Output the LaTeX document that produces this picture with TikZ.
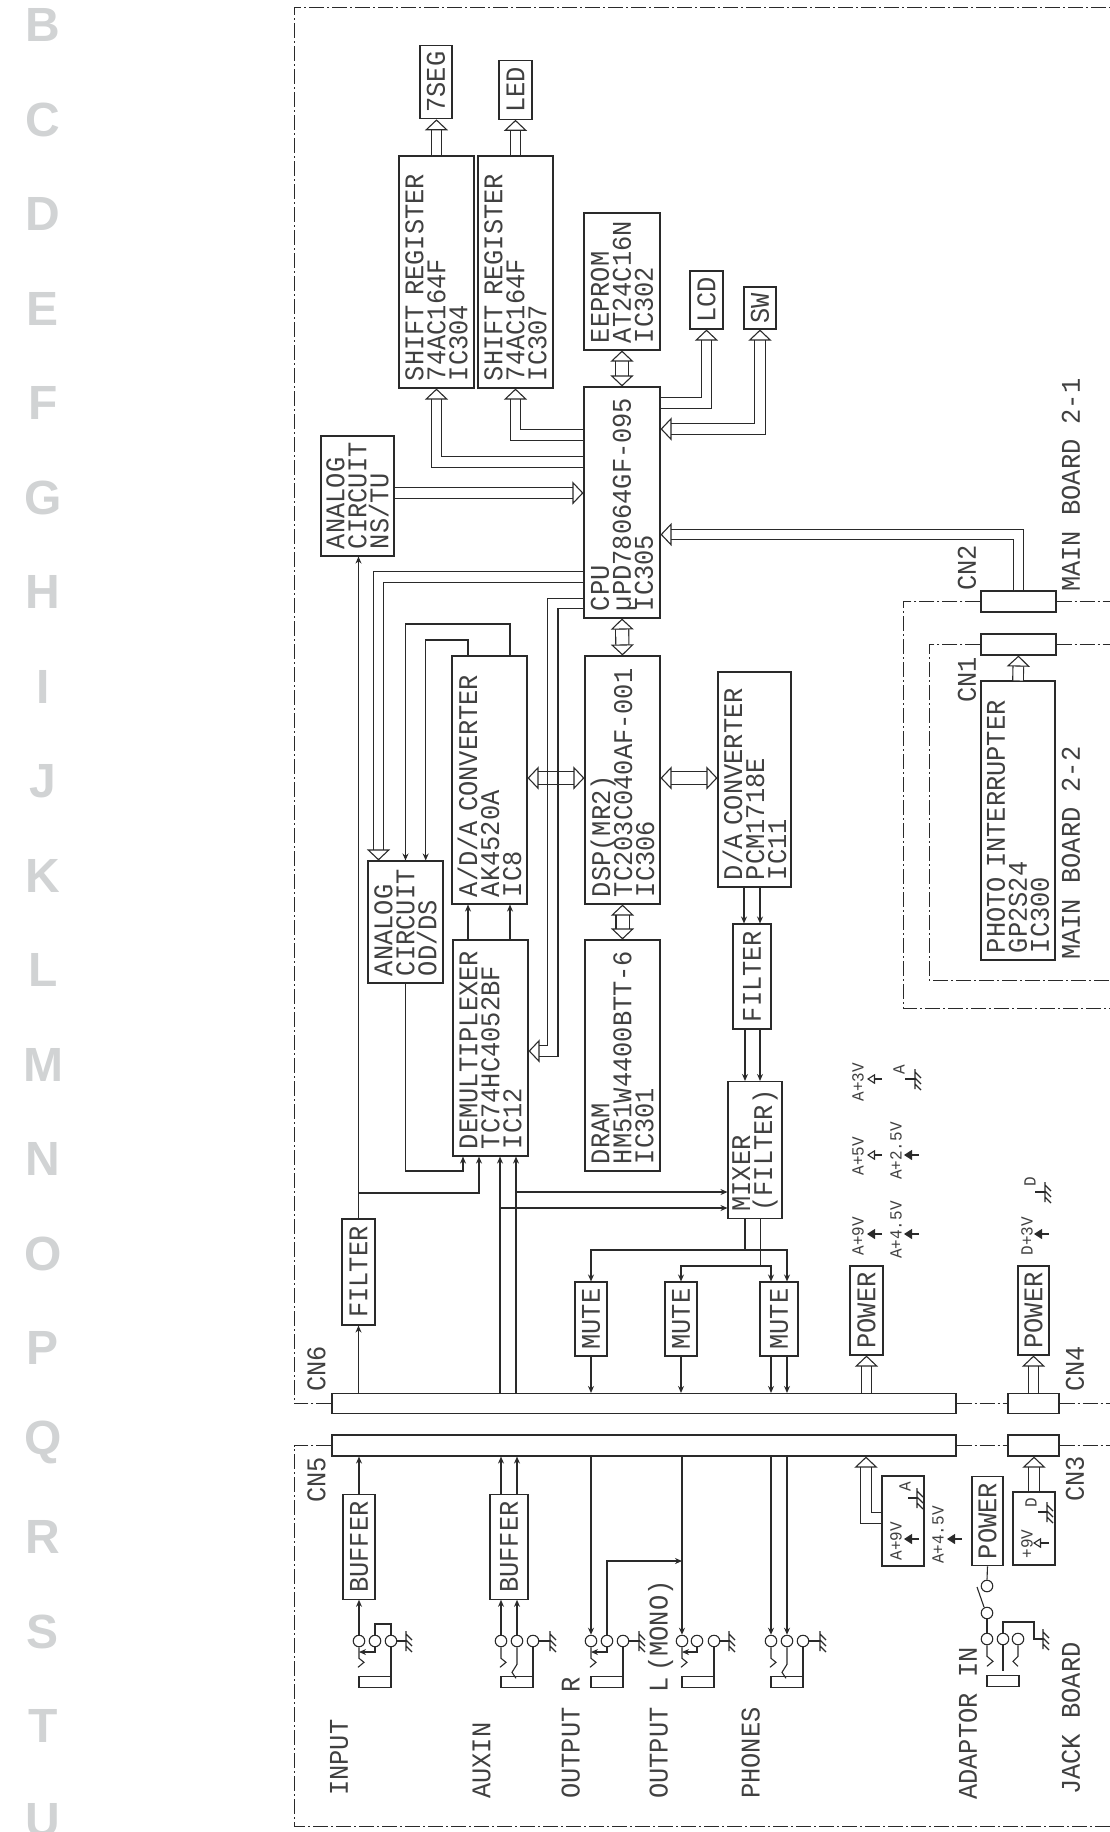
\documentclass[tikz,border=0pt]{standalone}
\usepackage{fontspec}
\usepackage{xcolor}
\usepackage{tikz}
\usetikzlibrary{positioning,arrows.meta}
\newfontfamily\schfont{Liberation Mono}[FakeStretch=0.94]
\newfontfamily\rulefont{Liberation Sans}
\newcommand{\schtext}{\schfont\fontsize{27}{22}\selectfont\lineskiplimit=-30pt\relax}
\definecolor{ink}{HTML}{2A2A2A}
\definecolor{soft}{HTML}{404040}
\definecolor{rulegray}{HTML}{D1D3D4}
\tikzset{
  txt/.style={font=\schtext},
  blk/.style 2 args={draw=ink,txt,text=soft,rotate=90,line width=1.1pt,inner xsep=7pt,inner ysep=0pt,
    text width=#1,minimum height=#2,align=left},
  tag/.style 2 args={draw=ink,txt,text=soft,rotate=90,line width=1.1pt,inner sep=0pt,
    minimum width=#1,minimum height=#2,align=center},
  port/.style 2 args={draw=ink,line width=1.1pt,inner sep=0pt,minimum width=#1,minimum height=#2},
  lbl/.style={txt,text=soft,rotate=90,anchor=west,inner sep=0pt},
  mini/.style={font=\schfont\fontsize{17}{17}\selectfont,text=soft,rotate=90,inner sep=0pt},
  pin/.style={draw=ink,circle,line width=1.1pt,minimum size=11.5pt,inner sep=0pt},
  plug/.style={draw=ink,line width=1.1pt,minimum width=32pt,minimum height=11pt,inner sep=0pt},
  wire/.style={draw=ink,line width=1.1pt},
  sig/.style={wire,-{Stealth[length=7pt,width=6pt]}},
  busend/.tip={Triangle[open,line width=1.1pt,length=11pt,width=23pt]},
  bus/.style={draw=ink,double,double distance=9.5pt,line width=1.1pt,-busend},
  biz/.style={bus,double distance=12pt,busend-busend},
  frame/.style={draw=ink,line width=1pt,dash pattern=on 15pt off 3pt on 2pt off 3pt},
  railf/.style={wire,-{Triangle[length=8pt,width=10pt]}},
  railo/.style={wire,-{Triangle[open,length=8pt,width=10pt]}},
  ruler/.style={font=\rulefont\bfseries\fontsize{48}{48}\selectfont,text=rulegray,inner sep=0pt}
}
\newcommand{\earth}[1]{\draw[wire] (#1) ++(0,-10) -- ++(0,20) (#1) ++(0,-7) -- ++(6,6) (#1) ++(0,-1) -- ++(6,6) (#1) ++(0,5) -- ++(6,6);}
\newcommand{\jackrow}[5]{
  \node (#1a) [pin] at (#2,1641) {};
  \node (#1b) [pin] at (#3,1641) {};
  \node (#1c) [pin] at (#4,1641) {};
  \node (#1p) [plug] at ({(#2+#4)/2},1682) {};
  \coordinate (#1g) at (#5,1641);
  \draw[wire] (#1c) -- (#1g);
  \earth{#1g}
  \draw[wire] (#1c.south) -- (#1c |- #1p.north);
  \draw[wire] (#1a.south) -- ++(0,11) -- ++(5,4) -- ++(-6,5);
}
\begin{document}
\begin{tikzpicture}[x=1pt,y=-1pt]
\useasboundingbox (0,0) rectangle (1110,1832);

\foreach \ltr [count=\i from 0] in {B,C,D,E,F,G,H,I,J,K,L,M,N,O,P,Q,R,S,T,U}
  \node (r\ltr) [ruler] at (43,{25+94.5*\i}) {\ltr};

% connectors and board frames
\node (cn6) [port={624pt}{20pt}] at (644,1403.5) {};
\node (cn5) [port={624pt}{21pt}] at (644,1445.5) {};
\node (cn4) [port={51pt}{20pt}] at (1033.5,1403.5) {};
\node (cn3) [port={51pt}{21pt}] at (1033.5,1445.5) {};
\node (cn2) [port={75pt}{21pt}] at (1018.5,601.5) {};
\node (cn1) [port={75pt}{21pt}] at (1018.5,644.5) {};

\draw[frame] (cn6.west) -- (294,1403.5) -- (294,7) -- (1110,7);
\draw[frame] (cn6.east) -- (cn4.west);
\draw[frame] (cn4.east) -- (1110,1403.5);
\draw[frame] (cn5.west) -- (294,1445.5) -- (294,1826) -- (1110,1826);
\draw[frame] (cn5.east) -- (cn3.west);
\draw[frame] (cn3.east) -- (1110,1445.5);
\draw[frame] (cn2.west) -- (903,601.5) -- (903,1008) -- (1110,1008);
\draw[frame] (cn2.east) -- (1110,601.5);
\draw[frame] (cn1.west) -- (929,644.5) -- (929,980) -- (1110,980);
\draw[frame] (cn1.east) -- (1110,644.5);

% blocks
\node (seg) [tag={73.5pt}{32pt}] at (436,82) {7SEG};
\node (led) [tag={58.5pt}{33pt}] at (515.5,90) {LED};
\node (lcd) [tag={58pt}{33pt}] at (706.5,300) {LCD};
\node (sw) [tag={42pt}{32pt}] at (760,308) {SW};

\node (sra) [blk={218pt}{75pt}] at (436.5,272) {SHIFT REGISTER\\74AC164F\\IC304};
\node (srb) [blk={218pt}{75pt}] at (515.5,272) {SHIFT REGISTER\\74AC164F\\IC307};
\node (eeprom) [blk={123pt}{76pt}] at (622,281.5) {EEPROM\\AT24C16N\\IC302};
\node (cpu) [blk={217pt}{76pt}] at (622,502.5) {CPU\\µPD78064GF-095\\IC305};
\node (nstu) [blk={106pt}{73pt}] at (357.5,496) {ANALOG\\CIRCUIT\\NS/TU};
\node (ada) [blk={234pt}{75pt}] at (489.5,780) {A/D/A CONVERTER\\AK4520A\\IC8};
\node (dsp) [blk={234pt}{75pt}] at (622.5,780) {DSP(MR2)\\TC203C040AF-001\\IC306};
\node (da) [blk={201pt}{73pt}] at (754.5,779.5) {D/A CONVERTER\\PCM1718E\\IC11};
\node (odds) [blk={108pt}{75pt}] at (405.5,922) {ANALOG\\CIRCUIT\\OD/DS};
\node (demux) [blk={202pt}{75pt}] at (490.5,1048) {DEMULTIPLEXER\\TC74HC4052BF\\IC12};
\node (dram) [blk={217pt}{75pt}] at (622.5,1055.5) {DRAM\\HM51W4400BTT-6\\IC301};
\node (mix) [blk={123pt}{54pt}] at (755,1150) {MIXER\\(FILTER)};
\node (photo) [blk={265pt}{74pt}] at (1018,820.5) {PHOTO INTERRUPTER\\GP2S24\\IC300};

\node (fltd) [tag={105pt}{38pt}] at (752,976.5) {FILTER};
\node (flta) [tag={106pt}{33pt}] at (358.5,1272) {FILTER};
\node (mutea) [tag={74pt}{32pt}] at (591,1319) {MUTE};
\node (muteb) [tag={74pt}{32pt}] at (681,1319) {MUTE};
\node (mutec) [tag={74pt}{38pt}] at (779,1319) {MUTE};
\node (bufa) [tag={104.5pt}{32pt}] at (359,1547) {BUFFER};
\node (bufb) [tag={104.5pt}{38pt}] at (509,1547) {BUFFER};
\node (powa) [tag={89pt}{33pt}] at (866.5,1310.5) {POWER};
\node (powd) [tag={89pt}{31pt}] at (1033.5,1310.5) {POWER};
\node (powj) [tag={89.5pt}{31pt}] at (987.5,1521) {POWER};
\node (abox) [tag={90pt}{42pt}] at (903,1521) {};
\node (dbox) [tag={73pt}{42pt}] at (1034,1528.5) {};

% hollow buses
\draw[biz] (dsp.north |- 0,778) -- (ada.south |- 0,778);
\draw[biz] (dsp.south |- 0,778) -- (da.north |- 0,778);
\draw[biz] (eeprom.west) -- (cpu.east);
\draw[biz] (cpu.west) -- (dsp.east);
\draw[biz] (dsp.west) -- (dram.east);
\draw[bus] (sra.east) -- (sra.east |- seg.west);
\draw[bus] (srb.east) -- (srb.east |- led.west);
\draw[bus] (cpu.south |- 0,403) -| (lcd.west);
\draw[biz,double distance=9.5pt] (sw.west) |- (cpu.south |- 0,429);
\draw[bus] (cpu.north |- 0,435) -| (srb.west);
\draw[bus] (cpu.north |- 0,462) -| (sra.west);
\draw[bus] (nstu.south |- 0,493) -- (cpu.north |- 0,493);
\draw[bus] (cn2.north) |- (cpu.south |- 0,534.5);
\draw[bus] (photo.east) -- (cn1.south);
\draw[bus] (cpu.north |- 0,577) -| (378.5,0 |- odds.east);
\coordinate (bend) at (552.7,1051);
\draw[bus] (cpu.north |- 0,603.5) -| (bend) -- (demux.south |- bend);
\draw[wire] (540,771.4) -- (566,771.4) (540,784.6) -- (566,784.6);
\draw[bus] (powa.west |- cn6.north) -- (powa.west);
\draw[bus] (powd.west |- cn4.north) -- (powd.west);
\draw[bus] (abox.north |- 0,1518) -| (866,0 |- cn5.south);
\draw[bus] (dbox.east) -- (dbox.east |- cn3.south);

% signal lines
\draw[sig] (flta.west |- cn6.north) -- (flta.west);
\draw[sig] (flta.east) -- (flta.east |- nstu.west);
\draw[sig] (flta.east |- 0,1193) -| (479,0 |- demux.west);
\draw[sig] (odds.west) |- (440,1171) -| (463,0 |- demux.west);
\draw[sig] (500,0 |- cn6.north) -- (500,0 |- demux.west);
\draw[sig] (516,0 |- cn6.north) -- (516,0 |- demux.west);
\draw[sig] (516,1192) -- (mix.north |- 0,1192);
\draw[sig] (500,1208) -- (mix.north |- 0,1208);
\draw[sig] (510,0 |- ada.east) |- (450,624) -| (odds.east);
\draw[sig] (468,0 |- ada.east) |- (450,640) -| (425.7,0 |- odds.east);
\draw[sig] (468,0 |- demux.east) -- (468,0 |- ada.west);
\draw[sig] (510,0 |- demux.east) -- (510,0 |- ada.west);
\draw[sig] (744,0 |- da.west) -- (744,0 |- fltd.east);
\draw[sig] (760,0 |- da.west) -- (760,0 |- fltd.east);
\draw[sig] (745,0 |- fltd.west) -- (745,0 |- mix.east);
\draw[sig] (760,0 |- fltd.west) -- (760,0 |- mix.east);

\coordinate (mixa) at (745,1250);
\coordinate (mixb) at (760.7,1266);
\draw[wire] (mixa |- mix.west) -- (mixa);
\draw[wire] (mixb |- mix.west) -- (mixb);
\draw[sig] (mixa) -| (mutea.east);
\draw[sig] (mixa) -| (787,0 |- mutec.east);
\draw[sig] (mixb) -| (muteb.east);
\draw[sig] (mixb) -| (771,0 |- mutec.east);
\draw[sig] (mutea.west) -- (mutea.west |- cn6.north);
\draw[sig] (muteb.west) -- (muteb.west |- cn6.north);
\draw[sig] (771,0 |- mutec.west) -- (771,0 |- cn6.north);
\draw[sig] (787,0 |- mutec.west) -- (787,0 |- cn6.north);

% jacks
\jackrow{i}{359}{375}{391}{406}
\jackrow{x}{501}{517}{533}{550}
\jackrow{r}{591}{607}{623}{639}
\jackrow{l}{682}{697}{714}{729}
\jackrow{h}{771}{787}{803}{820}

\draw[wire] (ib.north) |- (391,1624) -- (ic.north);
\draw[sig] (ib.south) |- (ia |- 0,1652);
\draw[sig] (rb.south) |- (ra |- 0,1652);
\draw[sig] (lb.south) |- (la |- 0,1652);
\draw[wire] (xb.south) -- ++(0,17) -- ++(-5,8) -- ++(4,6);
\draw[wire] (hb.south) -- ++(0,17) -- ++(-5,8) -- ++(4,6);

\draw[sig] (ia.north) -- (ia |- bufa.west);
\draw[sig] (bufa.east) -- (bufa.east |- cn5.south);
\draw[sig] (xa.north) -- (xa |- bufb.west);
\draw[sig] (xb.north) -- (xb |- bufb.west);
\draw[sig] (xa |- bufb.east) -- (xa |- cn5.south);
\draw[sig] (xb |- bufb.east) -- (xb |- cn5.south);
\draw[sig] (ra |- cn5.south) -- (ra.north);
\draw[sig] (la |- cn5.south) -- (la.north);
\draw[sig] (ha |- cn5.south) -- (ha.north);
\draw[sig] (hb |- cn5.south) -- (hb.north);
\draw[sig] (rb.north) |- (la |- 0,1561);

% adaptor
\node (swa) [pin] at (987,1586) {};
\node (swb) [pin] at (987,1613) {};
\node (ada1) [pin] at (987,1639) {};
\node (ada2) [pin] at (1003,1639) {};
\node (ada3) [pin] at (1018,1639) {};
\node (adap) [plug] at (1003,1681) {};
\coordinate (adag) at (1043,1639);
\draw[wire] (powj.west) -- (swa.north);
\draw[wire] (984,1607) -- (977,1587);
\draw[wire] (swb) -- (ada1);
\draw[wire] (ada2.north) |- (1034,1622) |- (adag);
\earth{adag}
\draw[wire] (ada1.south) -- ++(0,11) -- ++(6,5) -- ++(-6,5);
\draw[wire] (ada2.south) -- ++(0,26);
\draw[wire] (ada3.south) -- ++(0,11) -- ++(-5,5) -- ++(5,5);

% supply marks
\node (lnine) [mini] at (858,1236) {A+9V};
\node (lfive) [mini] at (858,1156) {A+5V};
\node (lthree) [mini] at (858,1082) {A+3V};
\node (lfour) [mini] at (896,1230) {A+4.5V};
\node (ltwo) [mini] at (896,1151) {A+2.5V};
\node (lagnd) [mini] at (899,1070) {A};
\node (ldthree) [mini] at (1027,1236) {D+3V};
\node (ldgnd) [mini] at (1030,1182) {D};
\draw[railf] (882,1234) -- (867,1234);
\draw[railo] (882,1155) -- (867,1155);
\draw[railo] (882,1079) -- (867,1079);
\draw[railf] (919,1234) -- (904,1234);
\draw[railf] (919,1155) -- (904,1155);
\draw[railf] (1049,1234) -- (1034,1234);
\coordinate (gnda) at (915,1079);
\draw[wire] (905,1079) -- (gnda);
\earth{gnda}
\coordinate (gndd) at (1045,1192);
\draw[wire] (1035,1192) -- (gndd);
\earth{gndd}

\node (bnine) [mini] at (896,1541) {A+9V};
\node (bfour) [mini] at (938,1535) {A+4.5V};
\node (bagnd) [mini] at (905,1487) {A};
\node (cnine) [mini] at (1027,1544) {+9V};
\node (cdgnd) [mini] at (1031,1503) {D};
\draw[railf] (919,1539) -- (904,1539);
\draw[railf] (962,1539) -- (947,1539);
\draw[railo] (1049,1543) -- (1033,1543);
\coordinate (gndb) at (917,1498);
\draw[wire] (908,1498) -- (gndb);
\earth{gndb}
\coordinate (gndc) at (1047,1512);
\draw[wire] (1038,1512) -- (gndc);
\earth{gndc}

% labels
\node (tcnsix) [lbl] at (316.5,1392) {CN6};
\node (tcnfive) [lbl] at (316.5,1503) {CN5};
\node (tcnfour) [lbl] at (1075,1392) {CN4};
\node (tcnthree) [lbl] at (1075,1502) {CN3};
\node (tcntwo) [lbl] at (967,591) {CN2};
\node (tcnone) [lbl] at (967,703) {CN1};
\node (tmbone) [lbl] at (1071,592) {MAIN BOARD 2-1};
\node (tmbtwo) [lbl] at (1071,960) {MAIN BOARD 2-2};
\node (tinput) [lbl] at (339,1796) {INPUT};
\node (taux) [lbl] at (481.7,1799) {AUXIN};
\node (toutr) [lbl] at (570.7,1799) {OUTPUT R};
\node (toutl) [lbl] at (660.7,1799) {OUTPUT L\hspace{-10pt} (MONO)};
\node (tphones) [lbl] at (750.7,1799) {PHONES};
\node (tadaptor) [lbl] at (968,1800) {ADAPTOR IN};
\node (tjack) [lbl] at (1071,1795) {JACK BOARD};

\end{tikzpicture}
\end{document}
